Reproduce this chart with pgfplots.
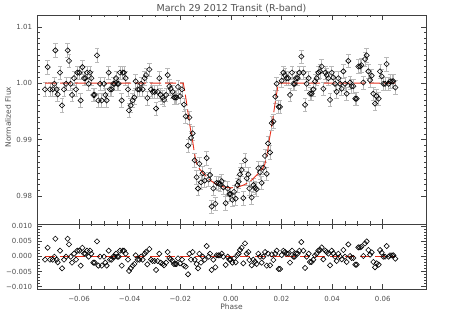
\documentclass[border=0pt]{standalone}
\usepackage{pgfplots}
\pgfplotsset{compat=1.18}
\usepackage{pgfplotstable}
\usepackage{fontspec}
\setmainfont{DejaVu Sans}
\definecolor{tc}{HTML}{505050}
\definecolor{axc}{HTML}{404040}
\definecolor{mred}{HTML}{E8301C}
\pgfplotstableread{
phase flux res
-0.07343 0.99890 -0.00110
-0.07238 1.00285 0.00285
-0.07146 0.99890 -0.00110
-0.07040 0.99890 -0.00110
-0.06974 0.99989 -0.00011
-0.06935 1.00582 0.00582
-0.06882 0.99890 -0.00110
-0.06843 0.99802 -0.00198
-0.06750 1.00187 0.00187
-0.06671 0.99605 -0.00395
-0.06592 0.99890 -0.00110
-0.06513 0.99989 -0.00011
-0.06448 1.00582 0.00582
-0.06395 1.00395 0.00395
-0.06329 0.99989 -0.00011
-0.06276 0.99791 -0.00209
-0.06197 1.00088 0.00088
-0.06118 0.99890 -0.00110
-0.06066 1.00187 0.00187
-0.05987 1.00187 0.00187
-0.05934 0.99693 -0.00307
-0.05868 1.00285 0.00285
-0.05802 1.00088 0.00088
-0.05750 1.00088 0.00088
-0.05684 1.00187 0.00187
-0.05618 0.99989 -0.00011
-0.05565 1.00187 0.00187
-0.05512 1.00088 0.00088
-0.05433 0.99791 -0.00209
-0.05381 0.99791 -0.00209
-0.05289 1.00494 0.00494
-0.05236 0.99693 -0.00307
-0.05170 0.99989 -0.00011
-0.05104 0.99693 -0.00307
-0.05012 0.99989 -0.00011
-0.04959 0.99791 -0.00209
-0.04907 0.99693 -0.00307
-0.04828 1.00187 0.00187
-0.04775 0.99890 -0.00110
-0.04709 0.99890 -0.00110
-0.04643 0.99989 -0.00011
-0.04591 0.99989 -0.00011
-0.04538 1.00088 0.00088
-0.04485 0.99989 -0.00011
-0.04433 0.99989 -0.00011
-0.04380 1.00187 0.00187
-0.04314 0.99693 -0.00307
-0.04274 1.00187 0.00187
-0.04222 1.00187 0.00187
-0.04156 1.00088 0.00088
-0.04064 0.99890 -0.00110
-0.04024 0.99517 -0.00483
-0.03958 0.99605 -0.00395
-0.03879 0.99693 -0.00307
-0.03814 0.99747 -0.00253
-0.03761 1.00033 0.00033
-0.03682 0.99890 -0.00110
-0.03616 0.99890 -0.00110
-0.03550 0.99989 -0.00011
-0.03484 0.99890 -0.00110
-0.03405 1.00088 0.00088
-0.03353 1.00143 0.00143
-0.03300 0.99736 -0.00264
-0.03221 1.00242 0.00242
-0.03155 0.99890 -0.00110
-0.03089 0.99846 -0.00154
-0.03010 0.99846 -0.00154
-0.02957 0.99550 -0.00450
-0.02892 0.99846 -0.00154
-0.02826 1.00088 0.00088
-0.02773 0.99791 -0.00209
-0.02694 0.99747 -0.00253
-0.02641 0.99704 -0.00296
-0.02562 0.99791 -0.00209
-0.02497 1.00143 0.00143
-0.02431 0.99945 -0.00055
-0.02378 0.99901 -0.00099
-0.02299 0.99846 -0.00154
-0.02246 0.99747 -0.00253
-0.02194 0.99747 -0.00253
-0.02141 0.99747 -0.00253
-0.02088 0.99934 -0.00066
-0.02009 0.99769 -0.00231
-0.01930 0.99890 -0.00110
-0.01851 0.99620 -0.00307
-0.01785 0.99410 -0.00340
-0.01693 0.98890 -0.00593
-0.01640 0.99390 0.00088
-0.01575 0.99030 -0.00110
-0.01509 0.99110 0.00143
-0.01430 0.98630 -0.00110
-0.01351 0.98330 -0.00253
-0.01298 0.98130 -0.00395
-0.01245 0.98570 0.00088
-0.01180 0.98240 -0.00209
-0.01114 0.98400 -0.00011
-0.01035 0.98270 -0.00110
-0.00956 0.98670 0.00340
-0.00877 0.98290 -0.00011
-0.00824 0.98370 0.00088
-0.00758 0.97810 -0.00450
-0.00692 0.98130 -0.00110
-0.00613 0.97860 -0.00362
-0.00561 0.98230 0.00033
-0.00495 0.98220 0.00033
-0.00429 0.98210 0.00033
-0.00363 0.98260 0.00088
-0.00297 0.98150 -0.00011
-0.00205 0.97870 -0.00285
-0.00126 0.98130 -0.00011
-0.00060 0.98030 -0.00110
-0.00007 0.98030 -0.00110
0.00059 0.97930 -0.00209
0.00124 0.98070 -0.00066
0.00190 0.97950 -0.00198
0.00256 0.98190 0.00044
0.00309 0.98250 0.00088
0.00361 0.98380 0.00209
0.00427 0.98460 0.00285
0.00493 0.97960 -0.00231
0.00559 0.98630 0.00428
0.00625 0.98310 0.00088
0.00691 0.98380 0.00143
0.00730 0.98130 -0.00121
0.00822 0.97970 -0.00296
0.00888 0.98190 -0.00110
0.00954 0.98140 -0.00176
0.01020 0.98120 -0.00253
0.01086 0.98490 0.00088
0.01152 0.98420 -0.00011
0.01217 0.98230 -0.00209
0.01283 0.98500 -0.00011
0.01349 0.98710 0.00143
0.01415 0.98390 -0.00307
0.01468 0.98930 0.00088
0.01547 0.98770 -0.00296
0.01613 0.99290 0.00066
0.01678 0.99320 -0.00121
0.01757 0.99760 0.00088
0.01810 0.99990 0.00187
0.01889 0.99580 -0.00417
0.01942 0.99580 -0.00417
0.02008 1.00044 0.00044
0.02074 1.00187 0.00187
0.02139 1.00143 0.00143
0.02205 1.00088 0.00088
0.02271 1.00088 0.00088
0.02337 0.99791 -0.00209
0.02416 1.00187 0.00187
0.02469 0.99989 -0.00011
0.02521 0.99989 -0.00011
0.02574 1.00088 0.00088
0.02640 1.00088 0.00088
0.02706 1.00187 0.00187
0.02785 1.00472 0.00472
0.02864 1.00187 0.00187
0.02930 0.99616 -0.00384
0.02995 0.99989 -0.00011
0.03074 1.00088 0.00088
0.03127 0.99813 -0.00187
0.03193 0.99813 -0.00187
0.03259 0.99890 -0.00110
0.03325 1.00033 0.00033
0.03391 1.00088 0.00088
0.03456 1.00187 0.00187
0.03522 1.00209 0.00209
0.03588 1.00296 0.00296
0.03654 0.99901 -0.00099
0.03733 1.00187 0.00187
0.03786 1.00143 0.00143
0.03852 1.00088 0.00088
0.03917 0.99704 -0.00296
0.03983 1.00187 0.00187
0.04049 1.00099 0.00099
0.04115 0.99989 -0.00011
0.04181 0.99846 -0.00154
0.04247 1.00088 0.00088
0.04312 0.99989 -0.00011
0.04378 0.99901 -0.00099
0.04444 1.00209 0.00209
0.04510 0.99989 -0.00011
0.04576 0.99813 -0.00187
0.04642 1.00395 0.00395
0.04708 1.00011 0.00011
0.04773 0.99945 -0.00055
0.04839 0.99945 -0.00055
0.04918 0.99725 -0.00275
0.04971 0.99725 -0.00275
0.05037 1.00296 0.00296
0.05103 1.00296 0.00296
0.05155 1.00318 0.00318
0.05234 1.00011 0.00011
0.05300 1.00428 0.00428
0.05366 1.00494 0.00494
0.05432 1.00209 0.00209
0.05498 1.00055 0.00055
0.05564 1.00132 0.00132
0.05629 0.99813 -0.00187
0.05695 0.99638 -0.00362
0.05761 0.99769 -0.00231
0.05840 0.99725 -0.00275
0.05893 1.00209 0.00209
0.05959 1.00121 0.00121
0.06025 0.99989 -0.00011
0.06090 0.99989 -0.00011
0.06156 1.00340 0.00340
0.06235 0.99989 -0.00011
0.06288 1.00033 0.00033
0.06367 1.00033 0.00033
0.06420 1.00033 0.00033
0.06499 0.99923 -0.00077
}\data
\pgfplotstableread{
phase model
-0.07343 1.0000
-0.0188 1.0000
-0.0182 0.9985
-0.0176 0.9968
-0.0170 0.9950
-0.0164 0.9930
-0.0158 0.9915
-0.0152 0.9900
-0.0146 0.9882
-0.0140 0.9866
-0.0134 0.9856
-0.0126 0.9849
-0.0115 0.9843
-0.0100 0.9836
-0.0085 0.9829
-0.0070 0.9824
-0.0050 0.9819
-0.0030 0.9816
0.0000 0.9814
0.0030 0.9816
0.0050 0.9819
0.0070 0.9824
0.0085 0.9829
0.0100 0.9836
0.0115 0.9843
0.0126 0.9849
0.0134 0.9856
0.0140 0.9866
0.0146 0.9882
0.0152 0.9900
0.0158 0.9915
0.0164 0.9930
0.0170 0.9950
0.0176 0.9968
0.0182 0.9985
0.0188 1.0000
0.06499 1.0000
}\model
\pgfplotsset{
  idl/.style={
    scale only axis, width=389pt,
    xmin=-0.0766, xmax=0.0771,
    scaled x ticks=false, scaled y ticks=false,
    axis line style={axc, line width=0.5pt},
    every tick/.style={axc, line width=0.5pt},
    major tick length=5pt, minor tick length=2.5pt,
    xtick={-0.06,-0.04,-0.02,0,0.02,0.04,0.06},
    minor x tick num=3,
    tick align=inside,
    ticklabel style={font=\fontsize{7}{8}\selectfont, text=tc},
    yticklabel style={xshift=-1.5pt},
    xticklabel style={yshift=-4pt},
  },
  errp/.style={only marks, mark=square, mark size=1.85pt,
    mark options={rotate=45, fill=white, draw=black, line width=0.6pt}},
}
\begin{document}
\begin{tikzpicture}
\useasboundingbox (0,0) rectangle (450pt,321pt);
\begin{axis}[idl, at={(37pt,97pt)}, anchor=south west, height=209pt,
  ymin=0.975, ymax=1.0121,
  ytick={0.98,0.99,1.00,1.01}, yticklabels={0.98,0.99,1.00,1.01},
  minor y tick num=9,
  xticklabels={},
  clip=true]
\addplot[errp,
  error bars/.cd, y dir=both, y fixed=0.0012,
  error bar style={color=gray!55, line width=0.5pt},
  error mark options={rotate=90, mark size=2.2pt, color=gray!55, line width=0.5pt}]
  table[x=phase, y=flux] {\data};
\addplot[mred, line width=0.9pt, dash pattern=on 11pt off 4pt, no marks] table[x=phase, y=model] {\model};
\end{axis}
\begin{axis}[idl, at={(37pt,32pt)}, anchor=south west, height=65pt,
  ymin=-0.0108, ymax=0.0107,
  ytick={-0.010,-0.005,0,0.005,0.010},
  yticklabels={−0.010,−0.005,0.000,0.005,0.010},
  minor y tick num=4,
  xticklabels={−0.06,−0.04,−0.02,0.00,0.02,0.04,0.06}]
\addplot[errp] table[x=phase, y=res] {\data};
\addplot[mred, line width=0.9pt, dash pattern=on 10pt off 5pt, no marks] coordinates {(-0.07343,0) (0.06499,0)};
\end{axis}
\node[text=tc, font=\fontsize{9.5}{11}\selectfont] at (231.5pt,312.5pt) {March 29 2012 Transit (R-band)};
\node[text=tc, font=\fontsize{7.5}{9}\selectfont, rotate=90] at (8pt,204pt) {Normalized Flux};
\node[text=tc, font=\fontsize{7.5}{9}\selectfont] at (231.5pt,14.5pt) {Phase};
\end{tikzpicture}
\end{document}
